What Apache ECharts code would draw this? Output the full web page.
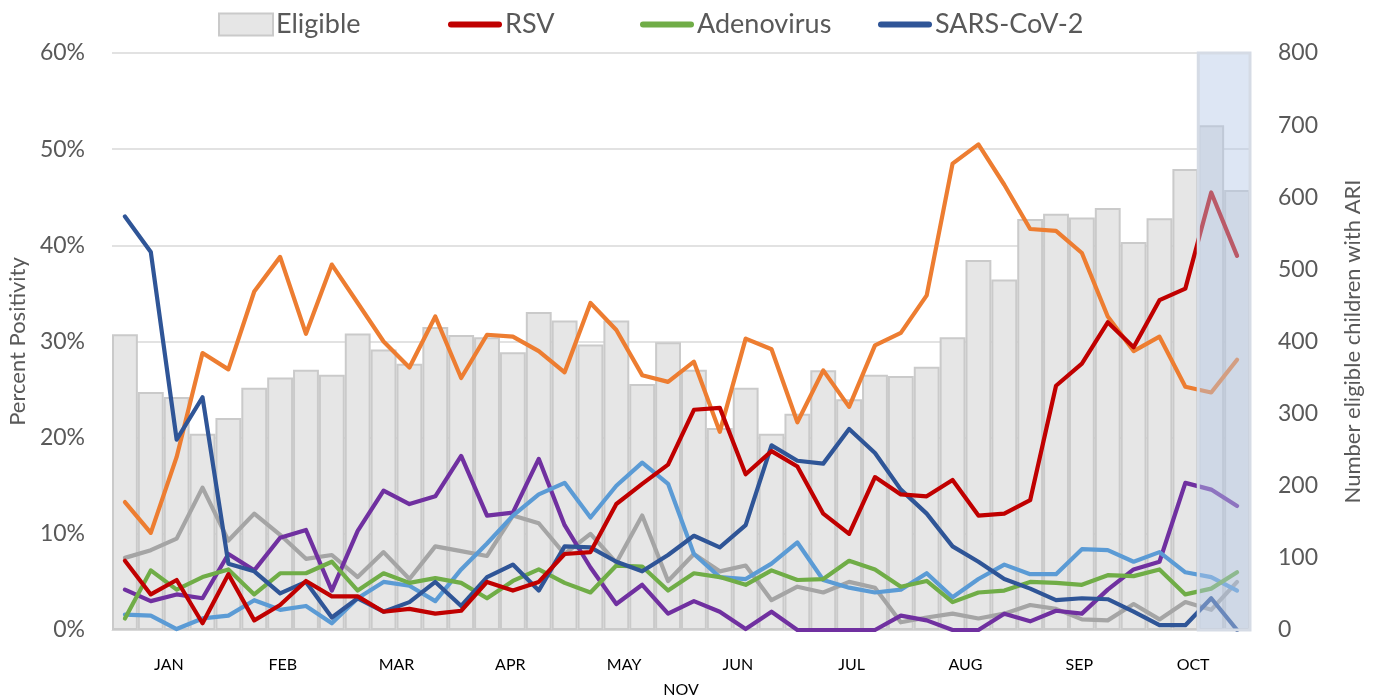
<!DOCTYPE html>
<html>
<head>
<meta charset="utf-8">
<script src="https://cdn.jsdelivr.net/npm/echarts@6/dist/echarts.min.js"></script>
<style>
  html, body { margin: 0; padding: 0; background: #fff; }
  #mainChart { width: 1373px; height: 697px; }
</style>
</head>
<body>
<div id="mainChart"></div>
<script>
// weekly data, Jan -> Oct (44 weeks)
var weeks = [];
for (var i = 1; i <= 44; i++) weeks.push('W' + i);
var months = ['JAN','FEB','MAR','APR','MAY','JUN','JUL','AUG','SEP','OCT'];

var eligible = [410,330,323,272,294,336,350,361,354,411,
                389,369,420,409,406,385,441,429,396,429,
                341,399,361,280,336,272,300,360,320,354,
                352,365,406,513,486,570,577,572,585,538,
                571,639,700,610];
var rsv = [7.2,3.7,5.2,0.7,5.8,1.0,2.6,5.1,3.5,3.5,
           1.9,2.2,1.7,2.0,5.0,4.1,5.0,7.9,8.1,13.1,
           15.2,17.2,22.9,23.1,16.2,18.6,17.0,12.1,10.0,15.9,
           14.1,13.9,15.6,11.9,12.1,13.5,25.4,27.7,32.0,29.4,
           34.3,35.5,45.5,38.9];
var adeno = [1.2,6.2,4.2,5.5,6.3,3.7,5.9,5.9,7.1,4.1,
             5.9,4.9,5.4,4.9,3.3,5.1,6.3,4.9,3.9,6.7,
             6.6,4.1,5.9,5.5,4.7,6.2,5.2,5.3,7.2,6.3,
             4.5,5.1,2.9,3.9,4.1,5.0,4.9,4.7,5.7,5.6,
             6.3,3.7,4.3,6.0];
var sars = [43.0,39.3,19.8,24.2,6.9,6.1,3.8,5.0,1.3,3.3,
            1.9,2.9,5.0,2.5,5.5,6.8,4.1,8.7,8.6,7.1,
            6.1,7.8,9.8,8.6,10.9,19.2,17.6,17.3,20.9,18.4,
            14.6,12.1,8.7,7.1,5.3,4.3,3.1,3.3,3.2,1.9,
            0.5,0.5,3.3,0];
var orange = [13.3,10.1,18.0,28.8,27.1,35.2,38.8,30.8,38.0,34.0,
              30.0,27.3,32.6,26.2,30.7,30.5,29.0,26.8,34.0,31.2,
              26.5,25.8,27.9,20.6,30.3,29.2,21.6,27.0,23.2,29.6,
              30.9,34.8,48.5,50.5,46.3,41.7,41.5,39.2,32.6,29.0,
              30.5,25.3,24.7,28.1];
var grey = [7.5,8.3,9.5,14.8,9.3,12.1,9.9,7.4,7.8,5.5,
            8.1,5.3,8.7,8.2,7.7,11.9,11.1,7.9,10.0,7.0,
            11.9,5.1,7.9,6.1,6.7,3.1,4.5,3.9,5.0,4.4,
            0.8,1.3,1.7,1.2,1.7,2.6,2.2,1.1,1.0,2.7,
            1.1,2.9,2.1,5.0];
var purple = [4.2,3.0,3.7,3.3,7.9,6.2,9.6,10.4,4.1,10.3,
              14.5,13.1,13.9,18.1,11.9,12.2,17.8,10.9,6.5,2.7,
              4.7,1.7,3.0,1.9,0.1,1.9,0,0,0,0,
              1.5,1.0,0,0,1.7,0.9,2.0,1.7,4.2,6.3,
              7.1,15.3,14.6,12.9];
var lightBlue = [1.6,1.5,0.1,1.2,1.5,3.1,2.1,2.5,0.7,3.3,
                 5.0,4.6,3.0,6.3,9.0,11.9,14.1,15.3,11.7,15.0,
                 17.4,15.2,7.9,5.5,5.3,6.9,9.1,5.2,4.4,3.9,
                 4.2,5.9,3.4,5.3,6.8,5.8,5.8,8.4,8.3,7.1,
                 8.1,6.0,5.5,4.1];
// shaded (incomplete) weeks
var shadedFrom = 42, shadedTo = 43;

var font = 'Lato, "Liberation Sans", sans-serif';
var lineIcon = 'path://M3,0 L51,0 A3,3 0 0 1 51,6 L3,6 A3,3 0 0 1 3,0 Z';

function lineSeries(name, data, color) {
    return {
        name: name,
        type: 'line',
        yAxisIndex: 0,
        data: data,
        symbol: 'none',
        showSymbol: false,
        smooth: false,
        z: 3,
        lineStyle: { color: color, width: 4.2, cap: 'round', join: 'round' },
        itemStyle: { color: color }
    };
}

// one legend per entry so each sits where Excel put it
function legendItem(name, icon, left) {
    return {
        left: left,
        top: 6,
        itemWidth: 54,
        itemHeight: 22,
        itemGap: 5,
        textStyle: { fontSize: 27, color: '#595959', fontFamily: font, padding: [0, 0, 0, -2] },
        data: [{ name: name, icon: icon }]
    };
}

var chart = echarts.init(document.getElementById('mainChart'));

var option = {
    animation: false,
    textStyle: { fontFamily: font },
    legend: [
        legendItem('Eligible', 'rect', 213),
        legendItem('RSV', lineIcon, 443),
        legendItem('Adenovirus', lineIcon, 635),
        legendItem('SARS-CoV-2', lineIcon, 873)
    ],
    grid: { left: 112, right: 123, top: 53, bottom: 67, outerBoundsMode: 'none', containLabel: false },
    xAxis: [
        {
            type: 'category',
            data: weeks,
            axisLine: { lineStyle: { color: '#D9D9D9', width: 1 } },
            axisTick: { show: false },
            axisLabel: { show: false }
        },
        {
            type: 'category',
            data: months,
            position: 'bottom',
            axisLine: { show: false },
            axisTick: { show: false },
            axisLabel: { fontSize: 16, color: '#000', margin: 27, fontFamily: font },
            name: 'NOV',
            nameLocation: 'middle',
            nameGap: 52,
            nameTextStyle: { fontSize: 16, color: '#000', fontFamily: font }
        },
        {
            type: 'value',
            min: -0.5,
            max: 43.5,
            show: false
        }
    ],
    yAxis: [
        {
            type: 'value',
            min: 0, max: 60, interval: 10,
            axisLabel: { formatter: '{value}%', fontSize: 23, color: '#595959', margin: 27 },
            axisLine: { show: false },
            axisTick: { show: false },
            splitLine: { lineStyle: { color: '#D9D9D9', width: 1.5 } },
            name: 'Percent Positivity',
            nameLocation: 'middle',
            nameGap: 74,
            nameTextStyle: { fontSize: 22, color: '#595959' }
        },
        {
            type: 'value',
            min: 0, max: 800, interval: 100,
            position: 'right',
            axisLabel: { fontSize: 23, color: '#595959', margin: 28 },
            axisLine: { show: false },
            axisTick: { show: false },
            splitLine: { show: false },
            name: 'Number eligible children with ARI',
            nameLocation: 'middle',
            nameGap: 92,
            nameRotate: 90,
            nameTextStyle: { fontSize: 22, color: '#595959' }
        }
    ],
    series: [
        {
            name: 'Eligible',
            type: 'bar',
            yAxisIndex: 1,
            data: eligible,
            barCategoryGap: '0%',
            z: 1,
            itemStyle: { color: '#E6E6E6', borderColor: '#CACACA', borderWidth: 2 }
        },
        lineSeries('Series 5', orange, '#ED7D31'),
        lineSeries('Series 6', grey, '#A5A5A5'),
        lineSeries('Series 7', purple, '#7030A0'),
        lineSeries('Series 8', lightBlue, '#5B9BD5'),
        lineSeries('Adenovirus', adeno, '#70AD47'),
        lineSeries('SARS-CoV-2', sars, '#2F5597'),
        lineSeries('RSV', rsv, '#C00000'),
        {
            name: 'highlight',
            type: 'line',
            xAxisIndex: 2,
            yAxisIndex: 0,
            data: [],
            z: 10,
            silent: true,
            markArea: {
                silent: true,
                z: 10,
                itemStyle: { color: 'rgba(180,199,231,0.45)', borderColor: '#D5DBE5', borderWidth: 3 },
                data: [[{ xAxis: shadedFrom - 0.5, yAxis: 60 }, { xAxis: shadedTo + 0.5, yAxis: 0 }]]
            }
        }
    ]
};

chart.setOption(option);
</script>
</body>
</html>
